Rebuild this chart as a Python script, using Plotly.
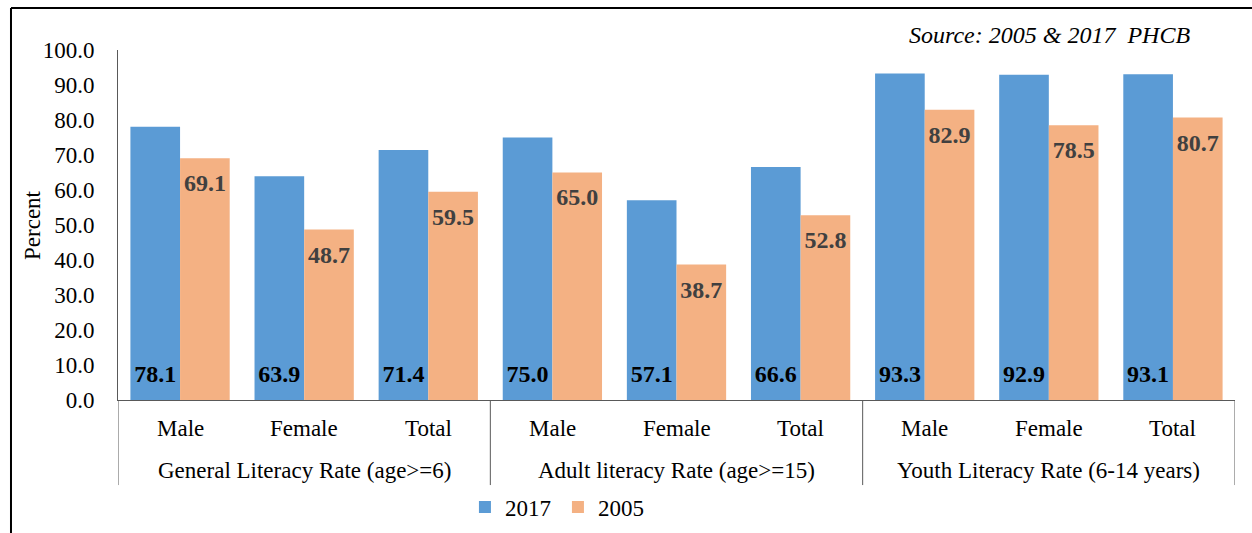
import plotly.graph_objects as go

groups = ["General Literacy Rate (age>=6)", "Adult literacy Rate (age>=15)", "Youth Literacy Rate (6-14 years)"]
categories = ["Male", "Female", "Total"] * 3
values_2017 = [78.1, 63.9, 71.4, 75.0, 57.1, 66.6, 93.3, 92.9, 93.1]
values_2005 = [69.1, 48.7, 59.5, 65.0, 38.7, 52.8, 82.9, 78.5, 80.7]
series_names = ["2017", "2005"]
source_text = "Source: 2005 & 2017\u00a0 PHCB"
y_title = "Percent"

BLUE = "#5B9BD5"
ORANGE = "#F4B183"
FONT = "Liberation Serif, Times New Roman, serif"
AXIS = "#595959"

n = len(categories)
xpos = list(range(n))
off = 0.2

fig = go.Figure()
fig.add_trace(go.Bar(x=[x - off for x in xpos], y=values_2017, width=0.4, name=series_names[0],
                     marker=dict(color=BLUE, line=dict(width=0)), hoverinfo="skip"))
fig.add_trace(go.Bar(x=[x + off for x in xpos], y=values_2005, width=0.4, name=series_names[1],
                     marker=dict(color=ORANGE, line=dict(width=0)), hoverinfo="skip"))

# value labels
fig.add_trace(go.Scatter(x=[x - off for x in xpos], y=[6.9] * n, mode="text",
                         text=[f"<b>{v:.1f}</b>" for v in values_2017],
                         textfont=dict(family=FONT, size=24, color="#000000"),
                         showlegend=False, hoverinfo="skip"))
fig.add_trace(go.Scatter(x=[x + off for x in xpos], y=[v - 7.7 for v in values_2005], mode="text",
                         text=[f"<b>{v:.1f}</b>" for v in values_2005],
                         textfont=dict(family=FONT, size=24, color="#404040"),
                         showlegend=False, hoverinfo="skip"))

annotations = []
for i, c in enumerate(categories):
    annotations.append(dict(x=i, y=-0.08, xref="x", yref="paper", text=c, showarrow=False,
                            xanchor="center", yanchor="middle",
                            font=dict(family=FONT, size=23, color="#000000")))
for g, name in enumerate(groups):
    annotations.append(dict(x=g * 3 + 1, y=-0.2, xref="x", yref="paper", text=name, showarrow=False,
                            xanchor="center", yanchor="middle",
                            font=dict(family=FONT, size=23, color="#000000")))
annotations.append(dict(x=-0.077, y=0.5, xref="paper", yref="paper", text=y_title, showarrow=False,
                        textangle=-90, xanchor="center", yanchor="middle",
                        font=dict(family=FONT, size=23, color="#000000")))
annotations.append(dict(x=0.8335, y=1.043, xref="paper", yref="paper", text=f"<i>{source_text}</i>",
                        showarrow=False, xanchor="center", yanchor="middle",
                        font=dict(family=FONT, size=24, color="#000000")))

shapes = []
for b in [-0.5, 2.5, 5.5, 8.5]:
    shapes.append(dict(type="line", xref="x", yref="paper", x0=b, x1=b, y0=0, y1=-0.243,
                       line=dict(color=AXIS, width=1)))
# outer frame (left and top)
shapes.append(dict(type="line", xref="paper", yref="paper", x0=-0.0958, x1=-0.0958, y0=1.12, y1=-0.4,
                   line=dict(color="#000000", width=2)))
shapes.append(dict(type="line", xref="paper", yref="paper", x0=-0.0958, x1=1.1, y0=1.12, y1=1.12,
                   line=dict(color="#000000", width=2)))

fig.update_layout(
    width=1252, height=533,
    margin=dict(l=118, r=17, t=50, b=133, autoexpand=False),
    paper_bgcolor="white", plot_bgcolor="white",
    barmode="overlay",
    showlegend=True,
    legend=dict(orientation="h", x=0.3106, y=-0.306, xanchor="left", yanchor="middle",
                font=dict(family=FONT, size=23, color="#000000"), itemwidth=30,
                entrywidth=48, entrywidthmode="pixels",
                bgcolor="rgba(0,0,0,0)"),
    xaxis=dict(range=[-0.5, 8.5], showticklabels=False, showgrid=False, zeroline=False,
               showline=True, linecolor=AXIS, linewidth=1, ticks=""),
    yaxis=dict(range=[0, 100], dtick=10, tickformat=".1f", showgrid=False, zeroline=False,
               showline=True, linecolor=AXIS, linewidth=1, ticks="", ticklabelstandoff=18,
               tickfont=dict(family=FONT, size=23, color="#000000")),
    annotations=annotations,
    shapes=shapes,
)

fig.write_html("out.html")
